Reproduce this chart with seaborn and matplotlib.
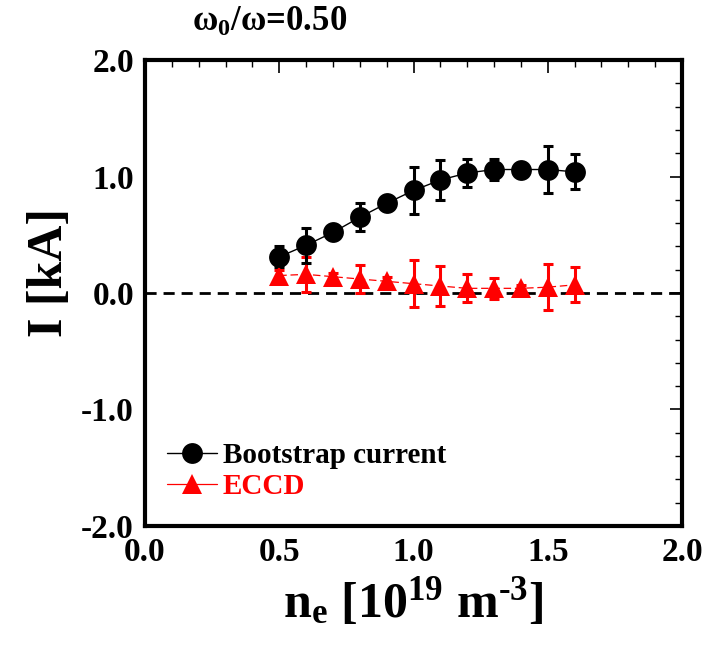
import matplotlib
matplotlib.use("Agg")
import matplotlib.pyplot as plt
from matplotlib.ticker import MultipleLocator, FormatStrFormatter
import seaborn as sns
import pandas as pd

# Electron density [10^19 m^-3]
density = [0.5, 0.6, 0.7, 0.8, 0.9, 1.0, 1.1, 1.2, 1.3, 1.4, 1.5, 1.6]
# Bootstrap current [kA]
bootstrap = [0.31, 0.41, 0.52, 0.65, 0.77, 0.88, 0.97, 1.03, 1.06, 1.06, 1.06, 1.04]
bootstrap_err = [0.09, 0.15, 0.04, 0.12, 0.04, 0.20, 0.17, 0.12, 0.09, 0.03, 0.20, 0.15]
# EC-driven current [kA]
eccd = [0.15, 0.16, 0.14, 0.12, 0.10, 0.08, 0.06, 0.04, 0.04, 0.04, 0.05, 0.07]
eccd_err = [0.05, 0.15, 0.03, 0.12, 0.04, 0.20, 0.17, 0.12, 0.09, 0.03, 0.20, 0.15]

df = pd.DataFrame({"ne": density, "bs": bootstrap, "bs_err": bootstrap_err,
                   "ec": eccd, "ec_err": eccd_err})

sns.set_theme(style="white")
plt.rcParams["font.family"] = ["Liberation Serif", "DejaVu Serif"]
plt.rcParams["font.weight"] = "bold"
plt.rcParams["text.color"] = "black"
plt.rcParams["axes.labelcolor"] = "black"
plt.rcParams["xtick.color"] = "black"
plt.rcParams["ytick.color"] = "black"
plt.rcParams["mathtext.fontset"] = "custom"
plt.rcParams["mathtext.rm"] = "Liberation Serif:bold"
plt.rcParams["mathtext.it"] = "Liberation Serif:bold"
plt.rcParams["mathtext.bf"] = "Liberation Serif:bold"

fig = plt.figure(figsize=(7.06, 6.46), dpi=100)
ax = fig.add_axes([0.2054, 0.1858, 0.7606, 0.7213])

# zero reference
ax.axhline(0, color="black", lw=2.0, ls=(0, (4, 2.5)), zorder=1)

# error bars
ax.errorbar(df["ne"], df["ec"], yerr=df["ec_err"], fmt="none", ecolor="red",
            elinewidth=2.2, capsize=3.3, capthick=2.2, zorder=2)
ax.errorbar(df["ne"], df["bs"], yerr=df["bs_err"], fmt="none", ecolor="black",
            elinewidth=2.2, capsize=3.3, capthick=2.2, zorder=3)

# series
sns.lineplot(data=df, x="ne", y="ec", ax=ax, color="red", lw=0.9,
             linestyle=(0, (6, 3)), marker="^", markersize=14,
             markeredgewidth=0, label="ECCD", zorder=4)
sns.lineplot(data=df, x="ne", y="bs", ax=ax, color="black", lw=1.0,
             marker="o", markersize=15, markeredgewidth=0,
             label="Bootstrap current", zorder=5)

ax.set_xlim(0, 2.0)
ax.set_ylim(-2.0, 2.0)
ax.xaxis.set_major_locator(MultipleLocator(0.5))
ax.xaxis.set_minor_locator(MultipleLocator(0.1))
ax.yaxis.set_major_locator(MultipleLocator(1.0))
ax.yaxis.set_minor_locator(MultipleLocator(0.2))
ax.xaxis.set_major_formatter(FormatStrFormatter("%.1f"))
ax.yaxis.set_major_formatter(FormatStrFormatter("%.1f"))
ax.tick_params(which="both", direction="in", top=True, right=True,
               labelsize=24, pad=8, colors="black")
ax.tick_params(which="major", length=9, width=1.2)
ax.tick_params(which="minor", length=5, width=1.0)
for lab in ax.get_xticklabels() + ax.get_yticklabels():
    lab.set_fontweight("bold")
for sp in ax.spines.values():
    sp.set_linewidth(3.0)
    sp.set_color("black")

ax.set_xlabel(r"n$_\mathregular{e}$ [10$^\mathregular{19}$ m$^\mathregular{‐3}$]",
              fontsize=36, fontweight="bold", labelpad=6)
ax.set_ylabel("I [kA]", fontsize=36, fontweight="bold")
ax.yaxis.set_label_coords(-0.135, 0.543)

fig.text(0.272, 0.965, r"$\mathregular{\omega_0/\omega}$=0.50", fontsize=25,
         fontweight="bold", ha="left", va="center")

handles, labels = ax.get_legend_handles_labels()
order = [labels.index("Bootstrap current"), labels.index("ECCD")]
leg = ax.legend([handles[i] for i in order], [labels[i] for i in order],
                loc="lower left", bbox_to_anchor=(0.02, 0.03), frameon=False,
                fontsize=21, handlelength=1.7, handletextpad=0.2,
                labelspacing=0.15, borderaxespad=0)
for txt, col in zip(leg.get_texts(), ["black", "red"]):
    txt.set_color(col)
    txt.set_fontweight("bold")
leg.get_lines()[1].set_linestyle("-")

fig.savefig("out.png", dpi=100)
